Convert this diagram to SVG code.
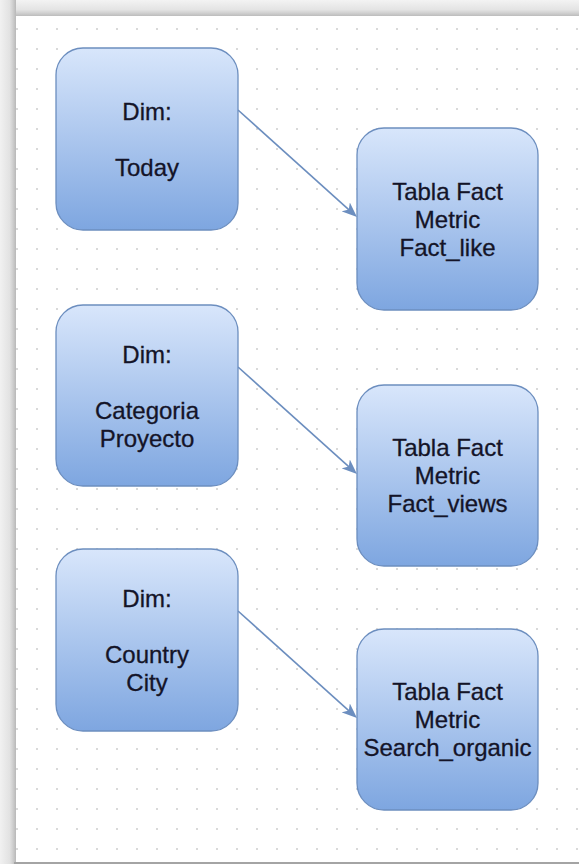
<svg xmlns="http://www.w3.org/2000/svg" width="579" height="864" viewBox="0 0 579 864">
  <defs>
    <linearGradient id="nodeFill" x1="0" y1="0" x2="0" y2="1">
      <stop offset="0" stop-color="#d8e6fb"/>
      <stop offset="1" stop-color="#7ea6e0"/>
    </linearGradient>
    <linearGradient id="topBand" x1="0" y1="0" x2="0" y2="1">
      <stop offset="0" stop-color="#f3f3f3"/>
      <stop offset="0.6" stop-color="#e4e4e4"/>
      <stop offset="0.8" stop-color="#d2d2d2"/>
      <stop offset="1" stop-color="#bcbcbc"/>
    </linearGradient>
    <linearGradient id="leftBand" x1="0" y1="0" x2="1" y2="0">
      <stop offset="0" stop-color="#f1f1f1"/>
      <stop offset="0.6" stop-color="#e2e2e2"/>
      <stop offset="0.8" stop-color="#cfcfcf"/>
      <stop offset="1" stop-color="#b8b8b8"/>
    </linearGradient>
    <pattern id="grid" x="7" y="19" width="20" height="20" patternUnits="userSpaceOnUse">
      <rect x="9.2" y="9.2" width="1.6" height="1.6" fill="#c4c4c4"/>
    </pattern>
    <marker id="arrow" viewBox="0 0 15 12" refX="11" refY="6" markerWidth="15" markerHeight="12" markerUnits="userSpaceOnUse" orient="auto">
      <path d="M0,0 L15,6 L0,12 L4,6 Z" fill="#6c8ebf"/>
    </marker>
    <style>
      .node rect { fill: url(#nodeFill); stroke: #6c8ebf; stroke-width: 1.3; }
      .node text { font-family: "Liberation Sans", Arial, sans-serif; font-size: 24px; fill: #141428; stroke: #141428; stroke-width: 0.3; text-anchor: middle; }
      .edge { fill: none; stroke: #6c8ebf; stroke-width: 1.6; marker-end: url(#arrow); }
    </style>
  </defs>

  <!-- window frame -->
  <rect x="0" y="0" width="579" height="864" fill="#ececec"/>
  <rect x="0" y="0" width="579" height="16" fill="url(#topBand)"/>
  <rect x="0" y="0" width="16" height="864" fill="url(#leftBand)"/>
  <rect x="16" y="16" width="563" height="846" fill="#ffffff"/>
  <rect x="16" y="16" width="563" height="846" fill="url(#grid)"/>
  <rect x="14" y="862" width="565" height="2" fill="#a4a4a4"/>

  <!-- connectors -->
  <g id="connectors">
    <path class="edge" d="M238,110 L354,214.3"/>
    <path class="edge" d="M238,367 L354,471.3"/>
    <path class="edge" d="M238,611 L354,715.3"/>
  </g>

  <!-- dimension nodes -->
  <g id="dim-today" class="node">
    <rect x="56" y="48" width="182" height="182" rx="27" ry="27"/>
    <text x="147" y="120">Dim:</text>
    <text x="147" y="176">Today</text>
  </g>
  <g id="dim-categoria" class="node">
    <rect x="56" y="305" width="182" height="181" rx="27" ry="27"/>
    <text x="147" y="363">Dim:</text>
    <text x="147" y="419">Categoria</text>
    <text x="147" y="447">Proyecto</text>
  </g>
  <g id="dim-country" class="node">
    <rect x="56" y="549" width="182" height="182" rx="27" ry="27"/>
    <text x="147" y="607">Dim:</text>
    <text x="147" y="663">Country</text>
    <text x="147" y="691">City</text>
  </g>

  <!-- fact tables -->
  <g id="fact-like" class="node">
    <rect x="357" y="128" width="181" height="182" rx="27" ry="27"/>
    <text x="447.5" y="200">Tabla Fact</text>
    <text x="447.5" y="228">Metric</text>
    <text x="447.5" y="256">Fact_like</text>
  </g>
  <g id="fact-views" class="node">
    <rect x="357" y="385" width="181" height="181" rx="27" ry="27"/>
    <text x="447.5" y="456">Tabla Fact</text>
    <text x="447.5" y="484">Metric</text>
    <text x="447.5" y="512">Fact_views</text>
  </g>
  <g id="fact-search" class="node">
    <rect x="357" y="629" width="181" height="181" rx="27" ry="27"/>
    <text x="447.5" y="700">Tabla Fact</text>
    <text x="447.5" y="728">Metric</text>
    <text x="447.5" y="756">Search_organic</text>
  </g>
</svg>
